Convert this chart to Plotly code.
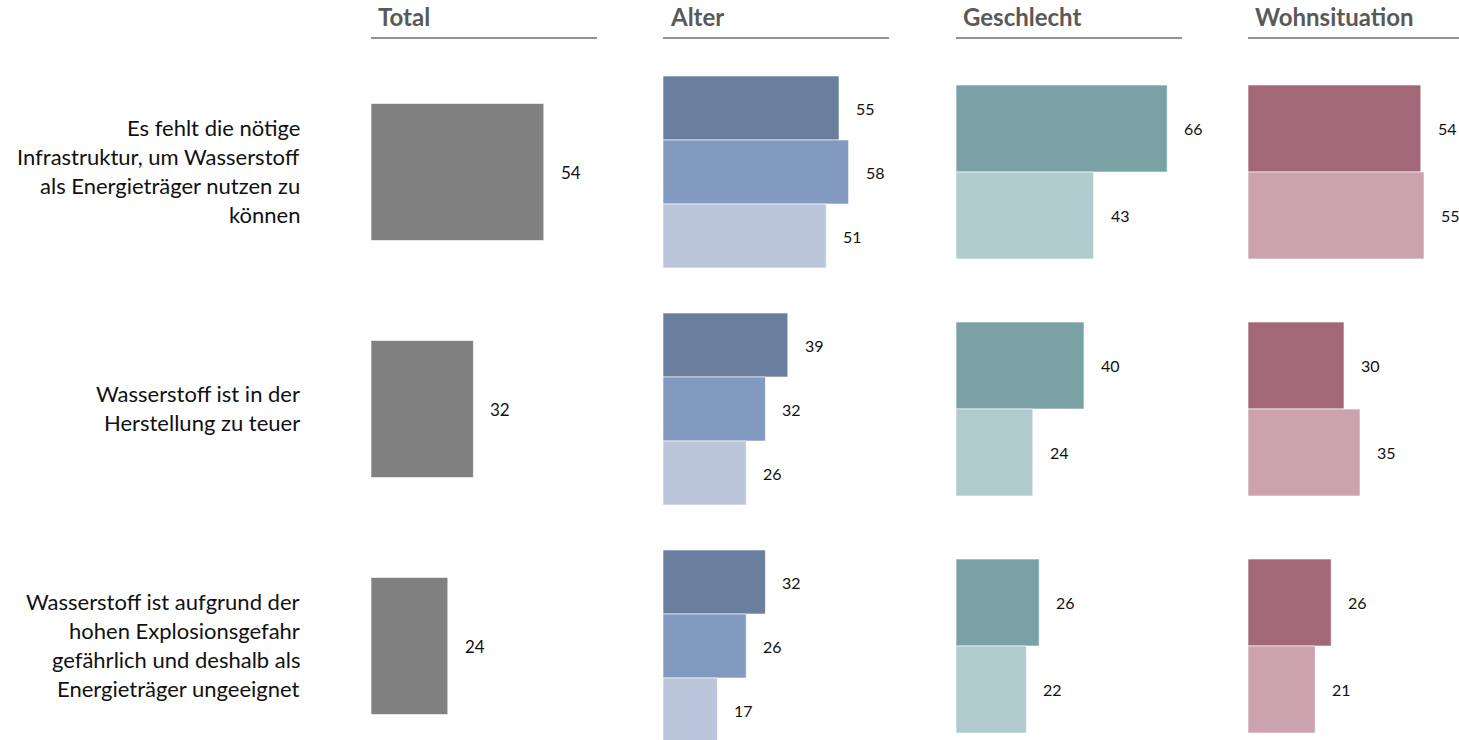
import plotly.graph_objects as go

# ---------------- data ----------------
categories = [
    "Es fehlt die nötige\nInfrastruktur, um Wasserstoff\nals Energieträger nutzen zu\nkönnen",
    "Wasserstoff ist in der\nHerstellung zu teuer",
    "Wasserstoff ist aufgrund der\nhohen Explosionsgefahr\ngefährlich und deshalb als\nEnergieträger ungeeignet",
]
panel_titles = ["Total", "Alter", "Geschlecht", "Wohnsituation"]

total = [54, 32, 24]

alter_1 = [55, 39, 32]
alter_2 = [58, 32, 26]
alter_3 = [51, 26, 17]

geschlecht_1 = [66, 40, 26]
geschlecht_2 = [43, 24, 22]

wohn_1 = [54, 30, 26]
wohn_2 = [55, 35, 21]

# ---------------- layout helpers ----------------
W, H = 1459, 740
px_per_unit = 3.2
panel_starts = [371, 663, 956, 1248]
panel_line_w = 226
group_px = 237.0            # pixels between category centres
first_center_px = 172.0     # y pixel of first category centre

pos = list(range(len(categories)))

def u(px):  # pixels -> category units
    return px / group_px

panels = [
    # (series list, colors, bar width px)
    ([("Total", total)], ["#808080"], 137),
    ([("Altersgruppe 1", alter_1), ("Altersgruppe 2", alter_2), ("Altersgruppe 3", alter_3)],
     ["#6A7F9D", "#8299C0", "#BBC6DB"], 64),
    ([("Geschlecht 1", geschlecht_1), ("Geschlecht 2", geschlecht_2)],
     ["#7AA2A6", "#B0CBCE"], 87),
    ([("Wohnsituation 1", wohn_1), ("Wohnsituation 2", wohn_2)],
     ["#A36878", "#CCA2AE"], 87),
]

fig = go.Figure()
annotations = []
shapes = []
FONT = "Lato, 'Open Sans', sans-serif"

for p, (series, colors, bar_px) in enumerate(panels):
    xa = "x" if p == 0 else f"x{p+1}"
    n = len(series)
    bw = u(bar_px)
    for k, ((name, vals), col) in enumerate(zip(series, colors)):
        off = -n * bw / 2 + k * bw
        fig.add_trace(go.Bar(
            x=vals, y=pos, orientation="h", name=name,
            width=[bw] * len(vals), offset=[off] * len(vals),
            marker=dict(color=col, line=dict(color="rgba(255,255,255,0.6)", width=1)),
            xaxis=xa, yaxis="y", showlegend=False, hoverinfo="x+name",
        ))
        for yi, v in zip(pos, vals):
            annotations.append(dict(
                x=v, y=yi + off + bw / 2, xref=xa, yref="y",
                text=str(v), showarrow=False, xanchor="left", yanchor="middle",
                xshift=15, font=dict(family=FONT, size=16 if p else 17, color="#111111"),
            ))

    # header title + underline
    start = panel_starts[p]
    annotations.append(dict(
        x=(start + 5) / W, y=1 - 17 / H, xref="paper", yref="paper",
        text=f"<b>{panel_titles[p]}</b>", showarrow=False,
        xanchor="left", yanchor="middle",
        font=dict(family=FONT, size=24, color="#595959"),
    ))
    shapes.append(dict(
        type="line", xref="paper", yref="paper",
        x0=start / W, x1=(start + panel_line_w) / W,
        y0=1 - 38 / H, y1=1 - 38 / H,
        line=dict(color="#6f6f6f", width=1.5),
    ))

# category labels (right aligned, one annotation per line)
line_px = 29
for yi, cat in zip(pos, categories):
    lines = cat.split("\n")
    nl = len(lines)
    for i, ln in enumerate(lines):
        annotations.append(dict(
            x=302 / W, y=yi, xref="paper", yref="y",
            text=ln, showarrow=False, xanchor="right", yanchor="middle",
            yshift=((nl - 1) / 2 - i) * line_px + 1,
            font=dict(family=FONT, size=22, color="#111111"),
        ))

layout_axes = {}
for p, start in enumerate(panel_starts):
    key = "xaxis" if p == 0 else f"xaxis{p+1}"
    end = min(start + panel_line_w, W)
    layout_axes[key] = dict(
        domain=[start / W, end / W],
        range=[0, (end - start) / px_per_unit],
        visible=False, fixedrange=True,
        anchor="y",
    )

y_top = -u(first_center_px)
y_bottom = y_top + u(H)

fig.update_layout(
    width=W, height=H,
    margin=dict(l=0, r=0, t=0, b=0),
    paper_bgcolor="white", plot_bgcolor="white",
    barmode="overlay",
    yaxis=dict(range=[y_bottom, y_top], visible=False, domain=[0, 1], fixedrange=True),
    annotations=annotations, shapes=shapes,
    font=dict(family=FONT),
    **layout_axes,
)

fig.write_html("out.html")
